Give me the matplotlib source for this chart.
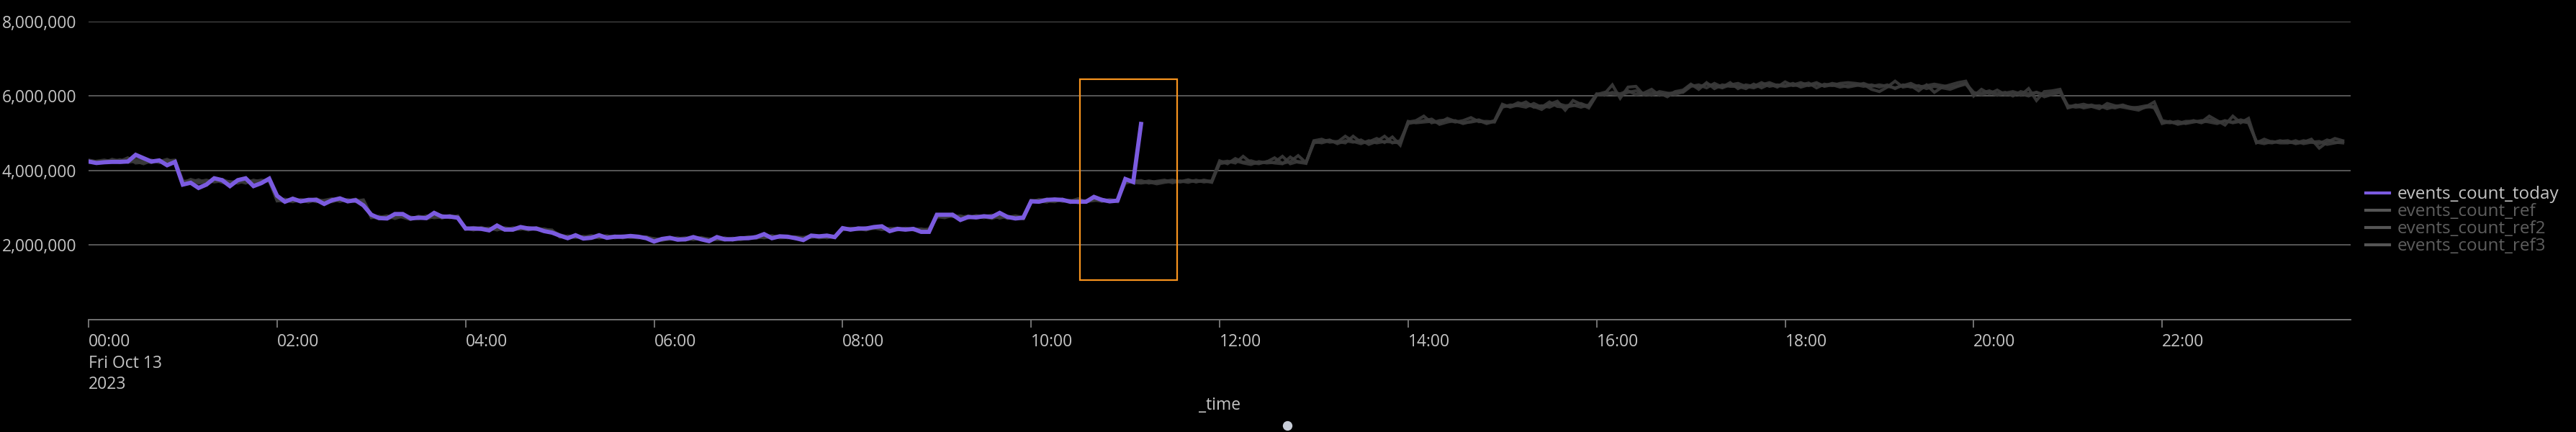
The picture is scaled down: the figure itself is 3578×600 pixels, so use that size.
"""
Splunk-style timechart: events_count_today against three reference days.
Writes out.png (3578x600).
"""

import numpy as np
import pandas as pd
import matplotlib

matplotlib.use("Agg")
import matplotlib.pyplot as plt
from matplotlib.lines import Line2D
from matplotlib.patches import Rectangle
from matplotlib.ticker import FuncFormatter

# ----------------------------------------------------------------------
# data (millions of events per 5-minute bucket, one row per hour)
# ----------------------------------------------------------------------
DAY = "2023-10-13"

today_by_hour = [
    [4.24, 4.20, 4.22, 4.23, 4.23, 4.24, 4.42, 4.33, 4.24, 4.27, 4.14, 4.23],
    [3.62, 3.67, 3.53, 3.62, 3.79, 3.74, 3.58, 3.74, 3.79, 3.58, 3.66, 3.78],
    [3.32, 3.16, 3.24, 3.17, 3.21, 3.21, 3.10, 3.20, 3.25, 3.17, 3.20, 3.06],
    [2.81, 2.72, 2.71, 2.83, 2.83, 2.71, 2.73, 2.72, 2.86, 2.76, 2.76, 2.73],
    [2.44, 2.44, 2.43, 2.39, 2.52, 2.41, 2.41, 2.48, 2.44, 2.44, 2.37, 2.33],
    [2.25, 2.18, 2.26, 2.17, 2.19, 2.26, 2.19, 2.22, 2.22, 2.24, 2.22, 2.18],
    [2.09, 2.16, 2.19, 2.14, 2.15, 2.21, 2.15, 2.10, 2.21, 2.15, 2.15, 2.18],
    [2.18, 2.21, 2.29, 2.18, 2.23, 2.22, 2.18, 2.13, 2.25, 2.23, 2.25, 2.21],
    [2.45, 2.41, 2.44, 2.44, 2.48, 2.50, 2.37, 2.43, 2.41, 2.43, 2.35, 2.35],
    [2.81, 2.81, 2.81, 2.67, 2.75, 2.74, 2.77, 2.75, 2.86, 2.75, 2.71, 2.73],
    [3.17, 3.16, 3.21, 3.22, 3.21, 3.16, 3.16, 3.16, 3.29, 3.21, 3.17, 3.19],
    [3.77, 3.69, 5.25],
]

ref1_by_hour = [
    [4.26, 4.22, 4.25, 4.27, 4.21, 4.26, 4.30, 4.25, 4.21, 4.28, 4.22, 4.25],
    [3.70, 3.73, 3.66, 3.70, 3.75, 3.68, 3.64, 3.71, 3.76, 3.62, 3.70, 3.74],
    [3.18, 3.20, 3.16, 3.22, 3.19, 3.24, 3.15, 3.22, 3.21, 3.19, 3.23, 3.12],
    [2.76, 2.70, 2.75, 2.80, 2.74, 2.68, 2.77, 2.74, 2.80, 2.72, 2.78, 2.75],
    [2.46, 2.42, 2.47, 2.41, 2.47, 2.44, 2.39, 2.46, 2.42, 2.45, 2.40, 2.36],
    [2.23, 2.20, 2.24, 2.19, 2.22, 2.24, 2.20, 2.21, 2.24, 2.20, 2.23, 2.19],
    [2.13, 2.15, 2.18, 2.15, 2.13, 2.19, 2.16, 2.13, 2.18, 2.16, 2.17, 2.15],
    [2.20, 2.18, 2.24, 2.20, 2.21, 2.23, 2.17, 2.16, 2.22, 2.21, 2.23, 2.20],
    [2.42, 2.44, 2.41, 2.46, 2.44, 2.47, 2.40, 2.42, 2.44, 2.40, 2.38, 2.40],
    [2.78, 2.76, 2.83, 2.72, 2.74, 2.77, 2.73, 2.78, 2.80, 2.71, 2.75, 2.70],
    [3.20, 3.18, 3.15, 3.24, 3.17, 3.20, 3.13, 3.19, 3.24, 3.18, 3.20, 3.16],
    [3.72, 3.68, 3.66, 3.69, 3.64, 3.68, 3.71, 3.69, 3.73, 3.70, 3.72, 3.68],
    [4.22, 4.25, 4.20, 4.38, 4.21, 4.18, 4.24, 4.20, 4.18, 4.36, 4.22, 4.19],
    [4.80, 4.84, 4.76, 4.78, 4.74, 4.92, 4.76, 4.77, 4.86, 4.75, 4.90, 4.68],
    [5.30, 5.34, 5.46, 5.28, 5.34, 5.36, 5.30, 5.34, 5.42, 5.31, 5.32, 5.30],
    [5.74, 5.72, 5.82, 5.76, 5.72, 5.64, 5.78, 5.86, 5.62, 5.88, 5.78, 5.68],
    [6.02, 6.06, 6.30, 5.94, 6.24, 6.26, 6.03, 6.09, 6.08, 5.98, 6.12, 6.16],
    [6.32, 6.18, 6.36, 6.20, 6.30, 6.26, 6.26, 6.20, 6.32, 6.22, 6.32, 6.24],
    [6.38, 6.28, 6.30, 6.35, 6.22, 6.32, 6.28, 6.34, 6.36, 6.34, 6.31, 6.18],
    [6.12, 6.24, 6.40, 6.24, 6.28, 6.14, 6.30, 6.10, 6.24, 6.30, 6.36, 6.40],
    [6.00, 6.18, 6.06, 6.16, 6.04, 6.08, 6.02, 6.20, 5.88, 6.12, 6.14, 6.18],
    [5.68, 5.74, 5.78, 5.72, 5.66, 5.80, 5.74, 5.70, 5.66, 5.62, 5.72, 5.84],
    [5.34, 5.30, 5.26, 5.32, 5.32, 5.30, 5.46, 5.34, 5.22, 5.46, 5.28, 5.40],
    [4.74, 4.84, 4.76, 4.78, 4.80, 4.72, 4.76, 4.84, 4.60, 4.76, 4.86, 4.80],
]

ref2_by_hour = [
    [4.22, 4.25, 4.28, 4.24, 4.29, 4.22, 4.25, 4.18, 4.26, 4.24, 4.30, 4.20],
    [3.66, 3.76, 3.70, 3.74, 3.69, 3.72, 3.70, 3.66, 3.73, 3.70, 3.74, 3.71],
    [3.22, 3.15, 3.26, 3.18, 3.22, 3.16, 3.20, 3.24, 3.17, 3.22, 3.16, 3.18],
    [2.73, 2.77, 2.70, 2.76, 2.79, 2.72, 2.75, 2.70, 2.76, 2.79, 2.73, 2.78],
    [2.42, 2.47, 2.44, 2.45, 2.40, 2.46, 2.43, 2.42, 2.47, 2.41, 2.43, 2.38],
    [2.27, 2.22, 2.20, 2.23, 2.18, 2.21, 2.25, 2.19, 2.22, 2.21, 2.19, 2.22],
    [2.15, 2.12, 2.17, 2.19, 2.14, 2.16, 2.20, 2.15, 2.14, 2.19, 2.13, 2.17],
    [2.22, 2.19, 2.21, 2.25, 2.19, 2.20, 2.22, 2.18, 2.20, 2.24, 2.19, 2.23],
    [2.46, 2.40, 2.46, 2.42, 2.45, 2.43, 2.44, 2.40, 2.45, 2.41, 2.43, 2.39],
    [2.74, 2.79, 2.76, 2.78, 2.72, 2.79, 2.75, 2.71, 2.77, 2.74, 2.78, 2.74],
    [3.15, 3.22, 3.18, 3.16, 3.23, 3.14, 3.21, 3.17, 3.19, 3.23, 3.16, 3.21],
    [3.66, 3.71, 3.73, 3.66, 3.71, 3.74, 3.67, 3.72, 3.68, 3.74, 3.69, 3.72],
    [4.26, 4.18, 4.32, 4.22, 4.26, 4.20, 4.23, 4.34, 4.19, 4.24, 4.40, 4.21],
    [4.74, 4.78, 4.82, 4.72, 4.80, 4.76, 4.82, 4.70, 4.78, 4.92, 4.74, 4.80],
    [5.26, 5.30, 5.34, 5.38, 5.24, 5.30, 5.34, 5.26, 5.32, 5.36, 5.28, 5.34],
    [5.78, 5.70, 5.76, 5.84, 5.70, 5.74, 5.70, 5.80, 5.74, 5.76, 5.70, 5.76],
    [6.06, 6.02, 6.10, 6.06, 6.14, 6.04, 6.08, 6.18, 6.02, 6.06, 6.10, 6.10],
    [6.26, 6.30, 6.22, 6.34, 6.24, 6.36, 6.20, 6.30, 6.26, 6.36, 6.26, 6.30],
    [6.28, 6.34, 6.24, 6.30, 6.36, 6.26, 6.30, 6.24, 6.28, 6.30, 6.26, 6.30],
    [6.24, 6.30, 6.20, 6.30, 6.24, 6.28, 6.20, 6.26, 6.22, 6.18, 6.26, 6.32],
    [6.06, 6.08, 6.14, 6.06, 6.10, 6.00, 6.12, 6.06, 6.10, 6.04, 6.08, 6.12],
    [5.74, 5.70, 5.72, 5.76, 5.70, 5.72, 5.68, 5.74, 5.70, 5.66, 5.70, 5.72],
    [5.26, 5.32, 5.24, 5.28, 5.34, 5.28, 5.36, 5.30, 5.32, 5.30, 5.36, 5.30],
    [4.76, 4.72, 4.78, 4.74, 4.74, 4.80, 4.72, 4.76, 4.78, 4.70, 4.74, 4.78],
]

ref3_by_hour = [
    [4.28, 4.24, 4.21, 4.30, 4.25, 4.34, 4.20, 4.22, 4.28, 4.21, 4.26, 4.28],
    [3.72, 3.68, 3.75, 3.66, 3.72, 3.76, 3.68, 3.72, 3.66, 3.74, 3.69, 3.76],
    [3.20, 3.23, 3.18, 3.20, 3.15, 3.22, 3.18, 3.16, 3.22, 3.20, 3.18, 3.21],
    [2.78, 2.74, 2.78, 2.71, 2.77, 2.75, 2.70, 2.78, 2.73, 2.75, 2.79, 2.71],
    [2.45, 2.40, 2.45, 2.43, 2.44, 2.40, 2.46, 2.44, 2.40, 2.46, 2.41, 2.40],
    [2.21, 2.24, 2.22, 2.21, 2.25, 2.19, 2.22, 2.24, 2.19, 2.23, 2.21, 2.20],
    [2.17, 2.14, 2.15, 2.17, 2.19, 2.14, 2.18, 2.16, 2.15, 2.13, 2.18, 2.14],
    [2.18, 2.23, 2.19, 2.22, 2.24, 2.19, 2.21, 2.20, 2.24, 2.19, 2.21, 2.24],
    [2.40, 2.45, 2.43, 2.40, 2.46, 2.41, 2.44, 2.45, 2.40, 2.44, 2.40, 2.43],
    [2.76, 2.73, 2.79, 2.74, 2.78, 2.72, 2.76, 2.80, 2.72, 2.77, 2.74, 2.76],
    [3.18, 3.20, 3.23, 3.18, 3.21, 3.18, 3.24, 3.15, 3.21, 3.17, 3.22, 3.18],
    [3.70, 3.73, 3.68, 3.72, 3.68, 3.71, 3.74, 3.70, 3.75, 3.69, 3.74, 3.70],
    [4.18, 4.22, 4.26, 4.20, 4.16, 4.24, 4.20, 4.22, 4.38, 4.18, 4.24, 4.22],
    [4.78, 4.74, 4.80, 4.76, 4.92, 4.78, 4.72, 4.80, 4.74, 4.78, 4.76, 4.74],
    [5.32, 5.28, 5.30, 5.32, 5.28, 5.40, 5.32, 5.28, 5.30, 5.34, 5.26, 5.32],
    [5.70, 5.76, 5.74, 5.70, 5.80, 5.70, 5.84, 5.72, 5.70, 5.74, 5.80, 5.72],
    [6.04, 6.10, 6.06, 6.02, 6.10, 6.14, 6.06, 6.02, 6.12, 6.08, 6.04, 6.12],
    [6.30, 6.24, 6.32, 6.28, 6.22, 6.30, 6.34, 6.26, 6.22, 6.30, 6.36, 6.28],
    [6.26, 6.30, 6.36, 6.28, 6.32, 6.28, 6.34, 6.30, 6.24, 6.28, 6.34, 6.26],
    [6.30, 6.26, 6.22, 6.28, 6.34, 6.24, 6.28, 6.32, 6.28, 6.24, 6.28, 6.34],
    [6.10, 6.04, 6.10, 6.02, 6.08, 6.12, 6.06, 6.00, 6.10, 5.98, 6.04, 6.10],
    [5.70, 5.76, 5.68, 5.72, 5.74, 5.66, 5.72, 5.76, 5.68, 5.70, 5.74, 5.68],
    [5.30, 5.28, 5.32, 5.26, 5.30, 5.34, 5.30, 5.26, 5.34, 5.28, 5.32, 5.28],
    [4.78, 4.76, 4.74, 4.80, 4.76, 4.74, 4.80, 4.76, 4.72, 4.82, 4.76, 4.74],
]

series_names = ["events_count_today", "events_count_ref", "events_count_ref2", "events_count_ref3"]
y_ticks = [2_000_000, 4_000_000, 6_000_000, 8_000_000]
x_tick_hours = [0, 2, 4, 6, 8, 10, 12, 14, 16, 18, 20, 22]

# highlighted window drawn on the chart (time range, value range)
box_start, box_end = "2023-10-13 10:31", "2023-10-13 11:33"
box_low, box_high = 1_050_000, 6_460_000

# ----------------------------------------------------------------------
# style
# ----------------------------------------------------------------------
BG = "#000000"
PURPLE = "#7B5BE0"
REF_GRAY = "#3a3a3a"
GRID = "#5e5e5e"
AXIS = "#7a7a7a"
TEXT = "#c4c4c4"
DIM_TEXT = "#5e5e5e"
ORANGE = "#F7931E"
FONT = ["Open Sans", "DejaVu Sans"]
FS = 16.5
LEGEND_FS = 17.5


def _flatten(rows):
    return np.array([v for row in rows for v in row]) * 1e6


def _times(n):
    return pd.date_range(f"{DAY} 00:00", periods=n, freq="5min")


def main():
    plt.rcParams["font.family"] = FONT

    today = _flatten(today_by_hour)
    refs = [_flatten(ref1_by_hour), _flatten(ref2_by_hour), _flatten(ref3_by_hour)]

    fig = plt.figure(figsize=(35.78, 6.0), dpi=100, facecolor=BG)
    ax = fig.add_axes([0.03438, 0.26083, 0.87814, 0.68917])
    ax.set_facecolor(BG)

    # reference days (faint, underneath)
    for r in refs:
        ax.plot(_times(len(r)), r, color=REF_GRAY, linewidth=3.0, alpha=0.9,
                solid_joinstyle="miter", zorder=2)
    ax.plot(_times(len(today)), today, color=PURPLE, linewidth=4.2,
            solid_joinstyle="miter", zorder=4)

    # highlight box
    x0 = matplotlib.dates.date2num(pd.Timestamp(box_start))
    x1 = matplotlib.dates.date2num(pd.Timestamp(box_end))
    ax.add_patch(Rectangle((x0, box_low), x1 - x0, box_high - box_low,
                           fill=False, edgecolor=ORANGE, linewidth=1.6, zorder=5))

    # axes
    start = pd.Timestamp(f"{DAY} 00:00")
    ax.set_xlim(start, start + pd.Timedelta(hours=24))
    ax.set_ylim(0, 8_000_000)

    for side in ["top", "right", "left"]:
        ax.spines[side].set_visible(False)
    ax.spines["bottom"].set_color(AXIS)
    ax.spines["bottom"].set_linewidth(1.3)

    ax.set_yticks(y_ticks)
    ax.yaxis.set_major_formatter(FuncFormatter(lambda v, _: f"{int(v):,}"))
    ax.tick_params(axis="y", length=0, pad=12, labelsize=FS, labelcolor=TEXT)
    ax.grid(axis="y", color=GRID, linewidth=1.3)
    ax.set_axisbelow(True)

    xt = [start + pd.Timedelta(hours=h) for h in x_tick_hours]
    xl = [f"{h:02d}:00" for h in x_tick_hours]
    xl[0] = "00:00\nFri Oct 13\n2023"
    ax.set_xticks(xt)
    ax.set_xticklabels(xl)
    ax.tick_params(axis="x", length=8, width=1.3, color=AXIS, pad=6,
                   labelsize=FS, labelcolor=TEXT)
    for lab in ax.get_xticklabels():
        lab.set_horizontalalignment("left")
        lab.set_verticalalignment("top")
        lab.set_linespacing(1.31)

    ax.set_xlabel("_time", fontsize=FS, color=TEXT, va="center")
    ax.xaxis.set_label_coords(0.5, (443.5 - 563) / 413.5)

    # legend on the right
    handles = [Line2D([], [], color=PURPLE, linewidth=3)] + \
              [Line2D([], [], color="#555555", linewidth=3) for _ in refs]
    leg = ax.legend(handles, series_names, loc="center left",
                    bbox_to_anchor=(1.0067, 0.3325), frameon=False,
                    borderaxespad=0, borderpad=0, fontsize=LEGEND_FS,
                    handlelength=1.35, handletextpad=0.45, labelspacing=0.0)
    for i, t in enumerate(leg.get_texts()):
        t.set_color(TEXT if i == 0 else DIM_TEXT)

    # pager dot under the chart
    fig.add_artist(Line2D([1788 / 3578], [1 - 591 / 600], marker="o",
                          markersize=8.6, color="#c8cdd8", linestyle="none",
                          transform=fig.transFigure))

    fig.savefig("out.png", dpi=100, facecolor=BG)
    plt.close(fig)


if __name__ == "__main__":
    main()
